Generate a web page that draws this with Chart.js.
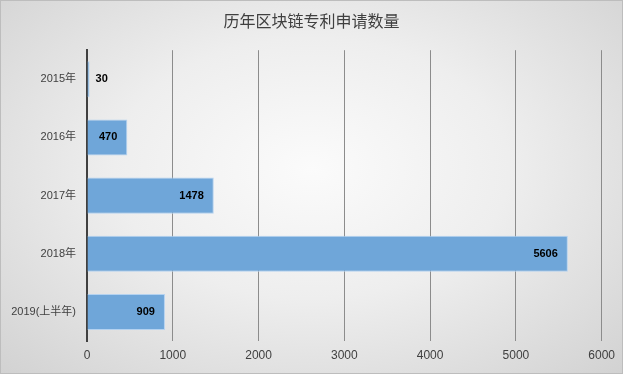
<!DOCTYPE html>
<html>
<head>
<meta charset="utf-8">
<script src="https://cdn.jsdelivr.net/npm/chart.js@4"></script>
<style>
  html, body { margin: 0; padding: 0; }
  #wrap {
    width: 621px; height: 372px;
    border: 1px solid #bdbdbd;
    background: radial-gradient(ellipse at 50% 45%, #fbfbfb 0%, #eeeeee 45%, #d2d2d2 100%);
  }
</style>
</head>
<body>
<div id="wrap"><canvas id="c" width="621" height="372"></canvas></div>
<script>
const years = ['2015年', '2016年', '2017年', '2018年', '2019(上半年)'];
const counts = [30, 470, 1478, 5606, 909];
const chartTitle = '历年区块链专利申请数量';

const fontFamily = '"Liberation Sans", "Noto Sans CJK SC", sans-serif';

// value labels at the inner end of each bar (outside if the bar is too short)
const barLabels = {
    id: 'barLabels',
    afterDatasetsDraw(chart) {
        const ctx = chart.ctx;
        const meta = chart.getDatasetMeta(0);
        ctx.save();
        ctx.font = 'bold 11px ' + fontFamily;
        ctx.fillStyle = '#000';
        ctx.textBaseline = 'middle';
        meta.data.forEach((bar, i) => {
            const txt = String(counts[i]);
            const w = ctx.measureText(txt).width;
            if (bar.x - bar.base > w + 16) {
                ctx.textAlign = 'right';
                ctx.fillText(txt, bar.x - 10, bar.y);
            } else {
                ctx.textAlign = 'left';
                ctx.fillText(txt, bar.x + 6, bar.y);
            }
        });
        ctx.restore();
    }
};

new Chart(document.getElementById('c'), {
    type: 'bar',
    data: {
        labels: years,
        datasets: [{
            data: counts,
            backgroundColor: '#6fa6d9',
            borderColor: '#b4d2f0',
            borderWidth: 1,
            categoryPercentage: 0.62,
            barPercentage: 1
        }]
    },
    options: {
        indexAxis: 'y',
        responsive: false,
        animation: false,
        layout: { padding: 0 },
        plugins: {
            legend: { display: false },
            tooltip: { enabled: false },
            title: {
                display: true,
                text: chartTitle,
                color: '#404040',
                font: { family: '"Noto Sans CJK SC", sans-serif', size: 16, weight: 'normal' },
                padding: { top: 10, bottom: 20 }
            }
        },
        scales: {
            x: {
                min: 0,
                max: 6000,
                ticks: {
                    stepSize: 1000,
                    color: '#404040',
                    font: { family: fontFamily, size: 12 },
                    padding: 7,
                    callback: v => String(v)
                },
                grid: { color: '#8c8c8c', drawTicks: false },
                border: { display: false },
                afterFit(scale) { scale.height = 32; }
            },
            y: {
                ticks: { color: '#404040', font: { family: fontFamily, size: 11 }, padding: 3 },
                grid: { display: false },
                border: { color: '#404040', width: 2 },
                afterFit(scale) { scale.width = 86; }
            },
            // empty spacer on the right so the plot ends before the frame
            yRight: {
                type: 'category',
                position: 'right',
                ticks: { display: false },
                grid: { display: false },
                border: { display: false },
                afterFit(scale) { scale.width = 17; }
            }
        }
    },
    plugins: [barLabels]
});
</script>
</body>
</html>
